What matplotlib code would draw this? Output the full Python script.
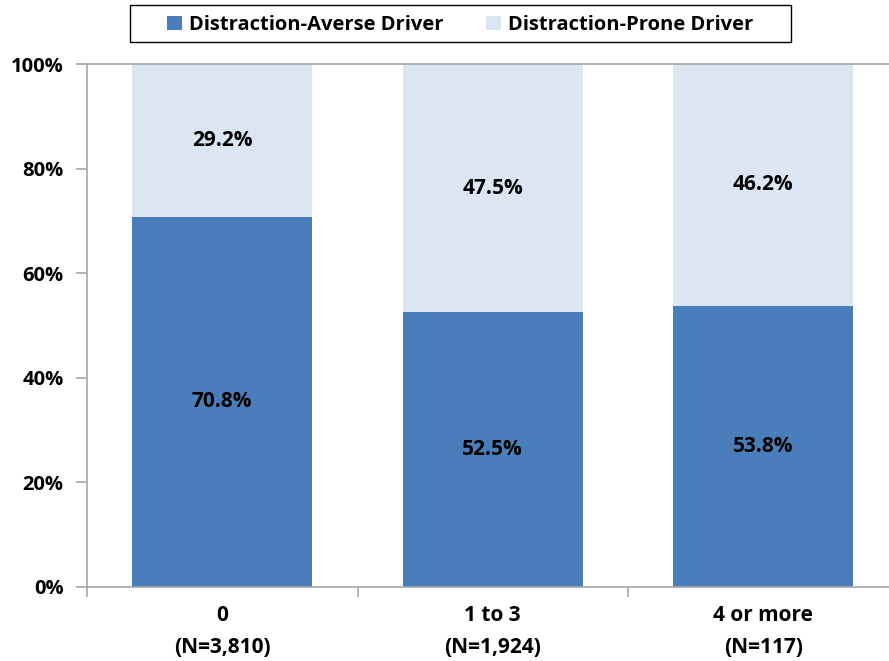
import matplotlib.pyplot as plt
from matplotlib.patches import Rectangle
import numpy as np

# === Data ===
categories = ["0\n(N=3,810)", "1 to 3\n(N=1,924)", "4 or more\n(N=117)"]
averse = [70.8, 52.5, 53.8]
prone = [29.2, 47.5, 46.2]
y_ticks = [0, 20, 40, 60, 80, 100]

plt.rcParams["font.family"] = ["Open Sans", "DejaVu Sans"]
plt.rcParams["font.weight"] = "bold"

dark = "#4A7EBB"
light = "#DCE6F2"
axis_gray = "#A6A6A6"

fig = plt.figure(figsize=(8.89, 6.61), dpi=100, facecolor="white")
ax = fig.add_axes([87 / 889, 74 / 661, 811.5 / 889, 523 / 661])

x = np.arange(len(categories))
b1 = ax.bar(x, averse, width=0.667, color=dark, label="Distraction-Averse Driver", zorder=2)
b2 = ax.bar(x, prone, width=0.667, bottom=averse, color=light,
            label="Distraction-Prone Driver", zorder=2)

# segment labels
for i in range(len(x)):
    ax.text(x[i], averse[i] / 2, f"{averse[i]:.1f}%", ha="center", va="center",
            fontsize=15, fontweight="bold", color="black")
    ax.text(x[i], averse[i] + prone[i] / 2, f"{prone[i]:.1f}%", ha="center", va="center",
            fontsize=15, fontweight="bold", color="black")

ax.set_xlim(-0.5, 2.5)
ax.set_ylim(0, 100)
ax.set_yticks(y_ticks)
ax.set_yticklabels([f"{v}%" for v in y_ticks], fontsize=14.5, fontweight="bold")

# category labels centred, ticks on the boundaries
ax.set_xticks([-0.5, 0.5, 1.5, 2.5])
ax.set_xticklabels([])
ax.set_xticks(x, minor=True)
ax.set_xticklabels(categories, minor=True, fontsize=15, fontweight="bold", linespacing=1.7)
ax.tick_params(axis="x", which="minor", length=0, pad=13)
ax.tick_params(axis="x", which="major", length=7, color=axis_gray, width=1.2)
ax.tick_params(axis="y", length=8, color=axis_gray, width=1.2, pad=9)

ax.spines["right"].set_visible(False)
for s in ["left", "bottom", "top"]:
    ax.spines[s].set_color(axis_gray)
    ax.spines[s].set_linewidth(1.2)

# legend without its own frame, then the wide box round it
leg = fig.legend(handles=[b1, b2], loc="center", bbox_to_anchor=(460.5 / 889, 1 - 25 / 661),
                 ncol=2, frameon=False, prop={"weight": "bold", "size": 14.5},
                 handlelength=0.75, handleheight=0.75, handletextpad=0.35, columnspacing=2.1)
fig.patches.append(Rectangle((130 / 889, 1 - 42 / 661), 661 / 889, 37 / 661,
                             transform=fig.transFigure, fill=False, edgecolor="black",
                             linewidth=1.0))

plt.savefig("out.png", dpi=100, facecolor="white")
